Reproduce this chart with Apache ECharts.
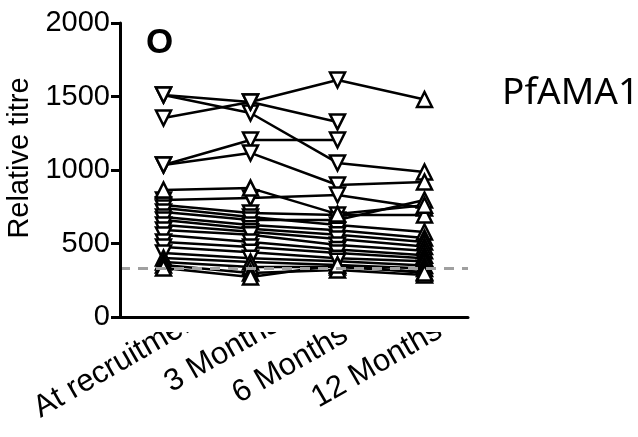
<!DOCTYPE html>
<html><head><meta charset="utf-8">
<script src="https://cdn.jsdelivr.net/npm/echarts@6/dist/echarts.min.js"></script>
<style>html,body{margin:0;padding:0;background:#fff}#c{width:638px;height:437px}</style>
</head><body><div id="c"></div>
<script>
const categories = ['At recruitment', '3 Months', '6 Months', '12 Months'];
const yTicks = [0, 500, 1000, 1500, 2000];
const cutoff = 330;
// down-triangle group
const d1 = [1510, 1388, 1048, 986];
const d2 = [1510, 1463, 1327, null];
const d3 = [1354, 1463, 1612, 1480];
const d4 = [1034, 1204, 1204, null];
const d5 = [1034, 1116, 898, 918];
const d6 = [796, 810, 830, 741];
const d7 = [762, 707, 694, 694];
const d8 = [741, 680, 626, 578];
const d9 = [714, 660, 660, 796];
const d10 = [680, 626, 590, 537];
const d11 = [660, 600, 560, 510];
const d12 = [626, 580, 530, 480];
const d13 = [592, 560, 490, 450];
const d14 = [558, 510, 460, 420];
const d15 = [510, 476, 435, 400];
const d16 = [476, 440, 400, 380];
const d17 = [435, 400, 380, 350];
// up-triangle group
const u1 = [864, 877, 700, 760];
const u2 = [401, 374, 354, 330];
const u3 = [374, 340, 340, 306];
const u4 = [354, 300, 320, 286];
const u5 = [333, 272, 354, 300];

const downGroup = [d1,d2,d3,d4,d5,d6,d7,d8,d9,d10,d11,d12,d13,d14,d15,d16,d17];
const upGroup = [u1,u2,u3,u4,u5];

function mk(arr, down) {
  return {
    type: 'line',
    xAxisIndex: 0,
    data: arr.map((v, i) => ({
      value: v,
      symbol: 'triangle',
      symbolRotate: (down && i < 3) ? 180 : 0
    })),
    symbolSize: 15,
    showAllSymbol: true,
    connectNulls: false,
    lineStyle: { color: '#000', width: 2.5 },
    itemStyle: { color: '#fff', borderColor: '#000', borderWidth: 2.5 },
    emphasis: { disabled: true },
    animation: false,
    z: 3
  };
}
const series = [];
downGroup.forEach(a => series.push(mk(a, true)));
upGroup.forEach(a => series.push(mk(a, false)));
series.push({
  type: 'line', data: [], silent: true, animation: false, xAxisIndex: 0,
  markLine: {
    silent: true, symbol: 'none', label: { show: false },
    lineStyle: { color: '#a0a0a0', type: [10, 8], width: 3 },
    data: [{ yAxis: cutoff }]
  },
  z: 1
});

// per-label shifts (style only): [top, right, bottom, left] padding in rotated frame
const labelPads = [[92, 101, 0, 0], [52, 65, 0, 0], [0, 109, 0, 0], [0, 110, 0, 0]];
const labelFont = { color: '#000', fontFamily: 'Liberation Sans', fontSize: 31 };

const chart = echarts.init(document.getElementById('c'));
chart.setOption({
  backgroundColor: '#fff',
  animation: false,
  title: {
    text: 'O', left: 141, top: 21,
    textStyle: { fontFamily: 'Liberation Sans', fontSize: 35, fontWeight: 'bold', color: '#000' }
  },
  graphic: [
    { type: 'text', left: 502, top: 75, z: 10,
      style: { text: 'PfAMA1', font: '37px "Noto Sans"', fill: '#000' } },
    { type: 'rect', left: 122, top: 298, z: 10, silent: true,
      shape: { width: 360, height: 34 }, style: { fill: '#fff' } }
  ],
  grid: { left: 120, right: 170, top: 23, bottom: 120, containLabel: false, outerBoundsMode: 'none' },
  xAxis: [{
    type: 'category', boundaryGap: true, z: 0,
    data: categories.map((c, i) => ({
      value: c,
      textStyle: Object.assign({ padding: labelPads[i], align: 'center', verticalAlign: 'middle' }, labelFont)
    })),
    axisLine: { show: false },
    axisTick: { show: false },
    axisLabel: Object.assign({ rotate: 30, margin: 20, interval: 0 }, labelFont)
  }, {
    type: 'category', boundaryGap: true, z: 20, data: categories, position: 'bottom',
    axisLine: { lineStyle: { color: '#000', width: 3 } },
    axisTick: { alignWithLabel: true, length: 9, lineStyle: { color: '#000', width: 3 } },
    axisLabel: { show: false }
  }],
  yAxis: {
    type: 'value', min: 0, max: 2000, interval: 500, z: 20,
    name: 'Relative titre', nameLocation: 'middle', nameGap: 82,
    nameTextStyle: { color: '#000', fontFamily: 'Liberation Sans', fontSize: 29, padding: [0, 0, 0, 24] },
    axisLine: { show: true, lineStyle: { color: '#000', width: 3 } },
    axisTick: { show: true, length: 9, lineStyle: { color: '#000', width: 3 } },
    axisLabel: { color: '#000', fontFamily: 'Liberation Sans', fontSize: 29, margin: 10,
      formatter: v => yTicks.includes(v) ? String(v) : '' },
    splitLine: { show: false }
  },
  series: series
});
</script></body></html>
